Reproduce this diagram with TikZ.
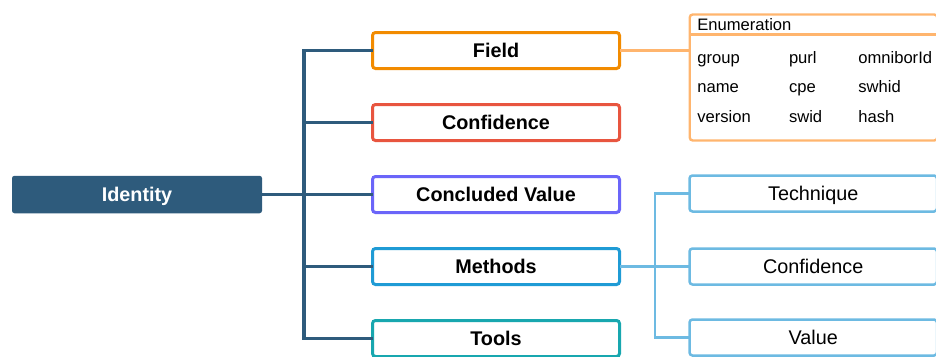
\documentclass[tikz,border=0pt]{standalone}
\usepackage{fontspec}
\setmainfont{Liberation Sans}
\usetikzlibrary{positioning}
\definecolor{rootblue}{HTML}{2E5B7C}
\definecolor{fieldorange}{HTML}{F28B00}
\definecolor{confred}{HTML}{E8553F}
\definecolor{concpurple}{HTML}{6B65F9}
\definecolor{methblue}{HTML}{1F9BD5}
\definecolor{toolteal}{HTML}{18A7AF}
\definecolor{sublight}{HTML}{6DBAE2}
\definecolor{enumorange}{HTML}{FFB56E}
\begin{document}
\begin{tikzpicture}[x=1pt, y=1pt, node distance=36pt, outer sep=0pt,
    root node/.style={rectangle, rounded corners=2.5pt, fill=rootblue, text=white, minimum width=250pt, minimum height=37.5pt, inner sep=0pt, font=\fontsize{19.8}{22}\selectfont\bfseries, text height=14.2pt, text depth=0pt},
    branch node/.style={rectangle, rounded corners=3pt, draw, line width=3pt, fill=white, minimum width=247pt, minimum height=36pt, inner sep=0pt, font=\fontsize{19.8}{22}\selectfont\bfseries, text height=14.2pt, text depth=0pt},
    leaf node/.style={rectangle, rounded corners=3pt, draw=sublight, line width=2.5pt, fill=white, minimum width=247.5pt, minimum height=36pt, inner sep=0pt, font=\fontsize{19.8}{22}\selectfont, text height=14.2pt, text depth=0pt},
    enum box/.style={rectangle, rounded corners=3pt, draw=enumorange, line width=2.4pt, minimum width=247.5pt, minimum height=126pt, inner sep=0pt},
    enum text/.style={anchor=base west, inner sep=0pt, font=\fontsize{16.6}{19}\selectfont},
    trunk/.style={draw=rootblue, line width=3.2pt},
    sublink/.style={draw=sublight, line width=2.7pt},
    enumlink/.style={draw=enumorange, line width=2.7pt}]
    \useasboundingbox (0,0) rectangle (936,-356);
    \clip (0,0) rectangle (936,-356);

    \node[root node] (identity) at (137,-194.5) {Identity};
    \node[branch node, draw=fieldorange] (field) at (496,-50.5) {Field};
    \node[branch node, draw=confred] (confidence) [below=of field] {Confidence};
    \node[branch node, draw=concpurple] (concluded) [below=of confidence] {Concluded Value};
    \node[branch node, draw=methblue] (methods) [below=of concluded] {Methods};
    \node[branch node, draw=toolteal] (tools) [below=of methods] {Tools};

    \node[leaf node] (technique) [right=70pt of concluded, yshift=1pt] {Technique};
    \node[leaf node] (subconf) [right=70pt of methods] {Confidence};
    \node[leaf node] (value) [right=70pt of tools, yshift=1pt] {Value};

    \node[enum box] (enum) at (813.5,-77.5) {};
    \node[enum text] (enumhead) at (697.3,-30) {Enumeration};
    \foreach \name/\px/\py in {group/697.3/63.3, name/697.3/92.5, version/697.3/122.5,
                               purl/789/63.3, cpe/789/92.5, swid/789/122.5,
                               omniborId/858.3/63.3, swhid/858.3/92.5, hash/858.3/122.5}
        \node[enum text] (e-\name) at (\px,-\py) {\name};

    \coordinate (fork) at (304,-194.5);
    \coordinate (subfork) at (655,-266.5);

    \draw[enumorange, line width=2.4pt] (enum.west |- 0,-34.3) -- (enum.east |- 0,-34.3);

    \path[trunk]
        (identity) edge (concluded)
        (confidence.west) edge (confidence.west -| fork)
        (methods.west) edge (methods.west -| fork);
    \draw[trunk] (field.west) -| (fork) |- (tools.west);

    \path[sublink] (methods) edge (subconf);
    \draw[sublink] (technique.west) -| (subfork) |- (value.west);

    \path[enumlink] (field.east) edge (field.east -| enum.west);
\end{tikzpicture}
\end{document}
